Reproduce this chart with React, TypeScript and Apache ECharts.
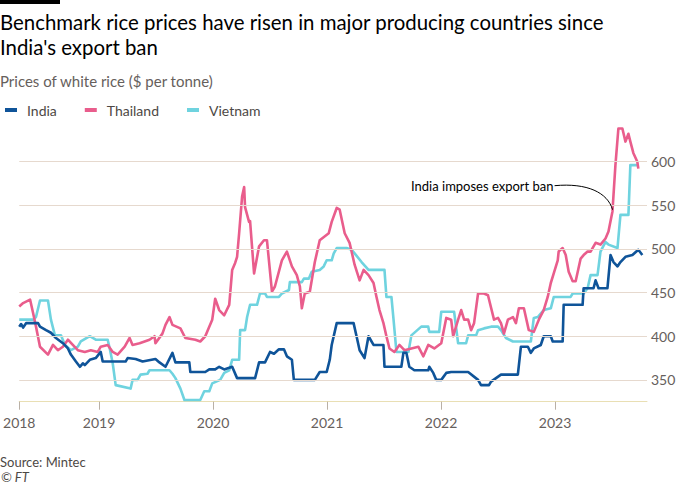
import React, { useEffect, useRef } from "react";
import * as echarts from "echarts";

const titleLines = [
  "Benchmark rice prices have risen in major producing countries since",
  "India's export ban",
];
const subtitle = "Prices of white rice ($ per tonne)";
const seriesNames = ["India", "Thailand", "Vietnam"];
const seriesColors = ["#0f5499", "#e95d8c", "#6fd3df"];
const yTicks = [350, 400, 450, 500, 550, 600];
const xTicks = [2018.3, 2019, 2020, 2021, 2022, 2023];
const annotationText = "India imposes export ban";
const annotationPoint = [2023.505, 545];

const india = [
  [2018.3, 411], [2018.316, 414], [2018.334, 410], [2018.36, 415], [2018.465, 415], [2018.482, 411], [2018.535, 407],
  [2018.578, 404], [2018.622, 398], [2018.683, 392], [2018.727, 386], [2018.753, 379], [2018.797, 371], [2018.832, 365],
  [2018.858, 369], [2018.875, 367], [2018.919, 373], [2018.971, 375], [2019.015, 382], [2019.032, 371], [2019.233, 371],
  [2019.251, 375], [2019.321, 374], [2019.382, 371], [2019.495, 374], [2019.53, 370], [2019.583, 365], [2019.644, 381],
  [2019.67, 370], [2019.792, 370], [2019.801, 359], [2019.932, 359], [2019.967, 362], [2020.019, 362], [2020.054, 365],
  [2020.098, 362], [2020.168, 365], [2020.211, 352], [2020.369, 352], [2020.404, 370], [2020.456, 370], [2020.5, 382],
  [2020.535, 380], [2020.578, 385], [2020.622, 385], [2020.648, 377], [2020.692, 373], [2020.709, 350], [2020.893, 350],
  [2020.936, 359], [2020.997, 359], [2021.024, 373], [2021.041, 390], [2021.085, 415], [2021.233, 415], [2021.259, 400],
  [2021.286, 384], [2021.329, 375], [2021.364, 400], [2021.408, 390], [2021.495, 390], [2021.504, 365], [2021.652, 365],
  [2021.67, 381], [2021.696, 381], [2021.722, 365], [2021.766, 361], [2021.888, 361], [2021.897, 365], [2021.932, 358],
  [2021.958, 350], [2022.002, 350], [2022.046, 358], [2022.089, 359], [2022.238, 359], [2022.325, 350], [2022.351, 344],
  [2022.421, 344], [2022.439, 348], [2022.526, 356], [2022.674, 356], [2022.701, 388], [2022.762, 388], [2022.788, 381],
  [2022.814, 386], [2022.875, 390], [2022.901, 400], [2022.963, 400], [2022.98, 394], [2023.067, 394], [2023.076, 436],
  [2023.242, 436], [2023.251, 455], [2023.338, 455], [2023.356, 464], [2023.382, 455], [2023.46, 455], [2023.487, 493],
  [2023.513, 485], [2023.548, 480], [2023.574, 485], [2023.618, 491], [2023.679, 493], [2023.731, 499], [2023.766, 493],
];

const thailand = [
  [2018.3, 434], [2018.334, 438], [2018.395, 442], [2018.421, 427], [2018.447, 411], [2018.482, 388], [2018.552, 379],
  [2018.596, 390], [2018.639, 384], [2018.683, 388], [2018.727, 396], [2018.77, 390], [2018.814, 384], [2018.875, 382],
  [2018.928, 384], [2018.989, 382], [2019.015, 388], [2019.076, 390], [2019.12, 382], [2019.163, 379], [2019.225, 388],
  [2019.268, 398], [2019.294, 390], [2019.356, 392], [2019.443, 396], [2019.487, 400], [2019.495, 392], [2019.556, 403],
  [2019.583, 413], [2019.618, 422], [2019.644, 413], [2019.714, 409], [2019.757, 398], [2019.845, 396], [2019.888, 394],
  [2019.932, 400], [2019.967, 411], [2019.993, 419], [2020.019, 443], [2020.054, 430], [2020.098, 424], [2020.142, 436],
  [2020.168, 476], [2020.194, 484], [2020.211, 491], [2020.229, 518], [2020.255, 560], [2020.273, 571], [2020.281, 548],
  [2020.316, 531], [2020.325, 532], [2020.36, 472], [2020.404, 503], [2020.447, 510], [2020.473, 510], [2020.517, 451],
  [2020.543, 457], [2020.604, 487], [2020.648, 497], [2020.692, 480], [2020.735, 470], [2020.762, 457], [2020.779, 432],
  [2020.805, 449], [2020.849, 451], [2020.893, 485], [2020.936, 510], [2021.015, 518], [2021.041, 531], [2021.085, 547],
  [2021.111, 545], [2021.155, 518], [2021.198, 507], [2021.242, 482], [2021.286, 464], [2021.321, 476], [2021.364, 470],
  [2021.408, 461], [2021.434, 445], [2021.46, 430], [2021.495, 415], [2021.521, 400], [2021.548, 386], [2021.591, 382],
  [2021.635, 390], [2021.679, 384], [2021.74, 386], [2021.801, 388], [2021.845, 377], [2021.888, 390], [2021.941, 386],
  [2022.002, 392], [2022.046, 421], [2022.089, 419], [2022.107, 400], [2022.15, 419], [2022.177, 430], [2022.203, 419],
  [2022.238, 419], [2022.264, 407], [2022.29, 415], [2022.325, 449], [2022.377, 449], [2022.412, 447], [2022.465, 419],
  [2022.5, 421], [2022.526, 415], [2022.552, 403], [2022.587, 419], [2022.631, 422], [2022.657, 415], [2022.683, 432],
  [2022.727, 432], [2022.77, 407], [2022.814, 405], [2022.858, 419], [2022.901, 430], [2022.936, 445], [2022.963, 461],
  [2022.989, 472], [2023.024, 487], [2023.032, 497], [2023.067, 501], [2023.094, 493], [2023.12, 474], [2023.155, 463],
  [2023.181, 463], [2023.225, 489], [2023.251, 493], [2023.286, 497], [2023.312, 497], [2023.356, 507], [2023.399, 505],
  [2023.443, 512], [2023.469, 520], [2023.504, 543], [2023.53, 596], [2023.556, 638], [2023.591, 638], [2023.618, 623],
  [2023.644, 632], [2023.661, 623], [2023.687, 610], [2023.722, 600], [2023.731, 592],
];

const vietnam = [
  [2018.3, 419], [2018.421, 419], [2018.447, 422], [2018.482, 441], [2018.552, 441], [2018.578, 419], [2018.613, 401],
  [2018.666, 401], [2018.701, 390], [2018.753, 384], [2018.814, 388], [2018.84, 394], [2018.919, 400], [2018.971, 396],
  [2019.076, 396], [2019.094, 386], [2019.12, 369], [2019.146, 344], [2019.277, 340], [2019.294, 350], [2019.338, 350],
  [2019.364, 356], [2019.425, 357], [2019.443, 361], [2019.618, 361], [2019.644, 357], [2019.67, 352], [2019.714, 340],
  [2019.749, 327], [2019.888, 327], [2019.923, 337], [2019.967, 337], [2019.993, 346], [2020.063, 350], [2020.098, 358],
  [2020.142, 361], [2020.168, 373], [2020.229, 373], [2020.238, 407], [2020.281, 407], [2020.299, 422], [2020.325, 436],
  [2020.386, 436], [2020.412, 449], [2020.456, 449], [2020.473, 445], [2020.578, 445], [2020.604, 449], [2020.666, 453],
  [2020.674, 462], [2020.779, 462], [2020.797, 466], [2020.84, 466], [2020.866, 474], [2020.936, 476], [2020.971, 480],
  [2020.997, 487], [2021.041, 487], [2021.059, 495], [2021.085, 501], [2021.172, 501], [2021.216, 499], [2021.242, 495],
  [2021.303, 485], [2021.364, 476], [2021.504, 476], [2021.521, 445], [2021.565, 445], [2021.583, 420], [2021.609, 382],
  [2021.714, 382], [2021.74, 401], [2021.827, 411], [2021.888, 411], [2021.897, 405], [2021.984, 405], [2022.002, 428],
  [2022.115, 428], [2022.15, 392], [2022.22, 392], [2022.238, 401], [2022.308, 401], [2022.325, 407], [2022.377, 409],
  [2022.439, 411], [2022.5, 411], [2022.526, 407], [2022.57, 398], [2022.631, 394], [2022.788, 394], [2022.814, 421],
  [2022.849, 422], [2022.901, 430], [2022.963, 432], [2022.989, 445], [2023.137, 445], [2023.155, 449], [2023.251, 449],
  [2023.286, 455], [2023.312, 470], [2023.373, 470], [2023.399, 497], [2023.443, 508], [2023.469, 505], [2023.548, 501],
  [2023.574, 539], [2023.644, 539], [2023.661, 596], [2023.722, 596],
];

const FONT = "Lato, 'Noto Sans', sans-serif";

export default function App() {
  const ref = useRef<HTMLDivElement>(null);

  useEffect(() => {
    if (!ref.current) return;
    const chart = echarts.init(ref.current, null, { renderer: "svg" });
    const lineSeries = (name: string, data: number[][], color: string, z: number) => ({
      name,
      type: "line",
      data,
      showSymbol: false,
      symbol: "none",
      z,
      lineStyle: { color, width: 2.6, join: "round" },
      itemStyle: { color },
    });
    chart.setOption({
      animation: false,
      backgroundColor: "#ffffff",
      textStyle: { fontFamily: FONT },
      grid: { left: 16, right: 33, top: 122.4, bottom: 84.3, containLabel: false },
      legend: {
        data: seriesNames,
        left: 0,
        top: 98,
        icon: "rect",
        itemWidth: 12,
        itemHeight: 4,
        itemGap: 28,
        textStyle: { fontFamily: FONT, fontSize: 14, color: "#4d4845", padding: [0, 0, 0, 5] },
      },
      xAxis: {
        type: "value",
        min: 2018.3,
        max: 2023.807,
        splitLine: { show: false },
        axisLine: { show: true, lineStyle: { color: "#e9dfb4", width: 1 } },
        axisTick: { show: true, customValues: xTicks, length: 8, lineStyle: { color: "#b9b0a6" } },
        axisLabel: {
          customValues: xTicks,
          formatter: (v: number) => String(Math.floor(v + 1e-6)),
          color: "#66605c",
          fontSize: 14,
          fontFamily: FONT,
          margin: 14,
        },
      },
      yAxis: {
        type: "value",
        position: "right",
        min: 325,
        max: 645,
        splitLine: { show: false },
        axisLine: { show: false },
        axisTick: { show: false },
        axisLabel: { customValues: yTicks, color: "#66605c", fontSize: 14, fontFamily: FONT, margin: 4 },
      },
      series: [
        {
          name: "grid",
          type: "line",
          data: [],
          z: 1,
          silent: true,
          markLine: {
            silent: true,
            symbol: "none",
            label: { show: false },
            lineStyle: { color: "#e6d9ce", type: "solid", width: 1 },
            data: yTicks.map((v) => ({ yAxis: v })),
          },
        },
        lineSeries(seriesNames[2], vietnam, seriesColors[2], 2),
        lineSeries(seriesNames[1], thailand, seriesColors[1], 3),
        lineSeries(seriesNames[0], india, seriesColors[0], 4),
      ],
    });

    const p = chart.convertToPixel({ xAxisIndex: 0, yAxisIndex: 0 }, annotationPoint) as number[];
    const tx = p[0] - 58;
    const ty = p[1] - 24;
    chart.setOption({
      graphic: [
        { type: "rect", left: 0, top: 0, shape: { x: 0, y: 0, width: 60, height: 4 }, style: { fill: "#000" } },
        {
          type: "text",
          x: 0,
          y: 22,
          style: { text: titleLines[0], font: `20.4px ${FONT}`, fill: "#000", textVerticalAlign: "middle" },
        },
        {
          type: "text",
          x: 0,
          y: 47,
          style: { text: titleLines[1], font: `20.4px ${FONT}`, fill: "#000", textVerticalAlign: "middle" },
        },
        {
          type: "text",
          x: 0,
          y: 81,
          style: { text: subtitle, font: `15px ${FONT}`, fill: "#66605c", textVerticalAlign: "middle" },
        },
        {
          type: "text",
          x: tx - 1,
          y: ty,
          z: 10,
          style: {
            text: annotationText,
            font: `13px ${FONT}`,
            fill: "#000",
            textAlign: "right",
            textVerticalAlign: "middle",
          },
        },
        {
          type: "bezierCurve",
          z: 10,
          shape: {
            x1: tx,
            y1: ty,
            cpx1: tx + 33,
            cpy1: ty - 3,
            cpx2: p[0] - 5,
            cpy2: ty + 7,
            x2: p[0],
            y2: p[1],
          },
          style: { stroke: "#000", lineWidth: 1, fill: "none" },
        },
        {
          type: "text",
          x: 0,
          y: 462,
          style: { text: "Source: Mintec", font: `13px ${FONT}`, fill: "#4d4845", textVerticalAlign: "middle" },
        },
        {
          type: "text",
          x: 1,
          y: 477,
          style: { text: "© FT", font: `italic 13px ${FONT}`, fill: "#4d4845", textVerticalAlign: "middle" },
        },
      ],
    });
    return () => chart.dispose();
  }, []);

  return (
    <div
      ref={ref}
      style={{ position: "fixed", left: 0, top: 0, width: 680, height: 486, background: "#fff" }}
    />
  );
}
